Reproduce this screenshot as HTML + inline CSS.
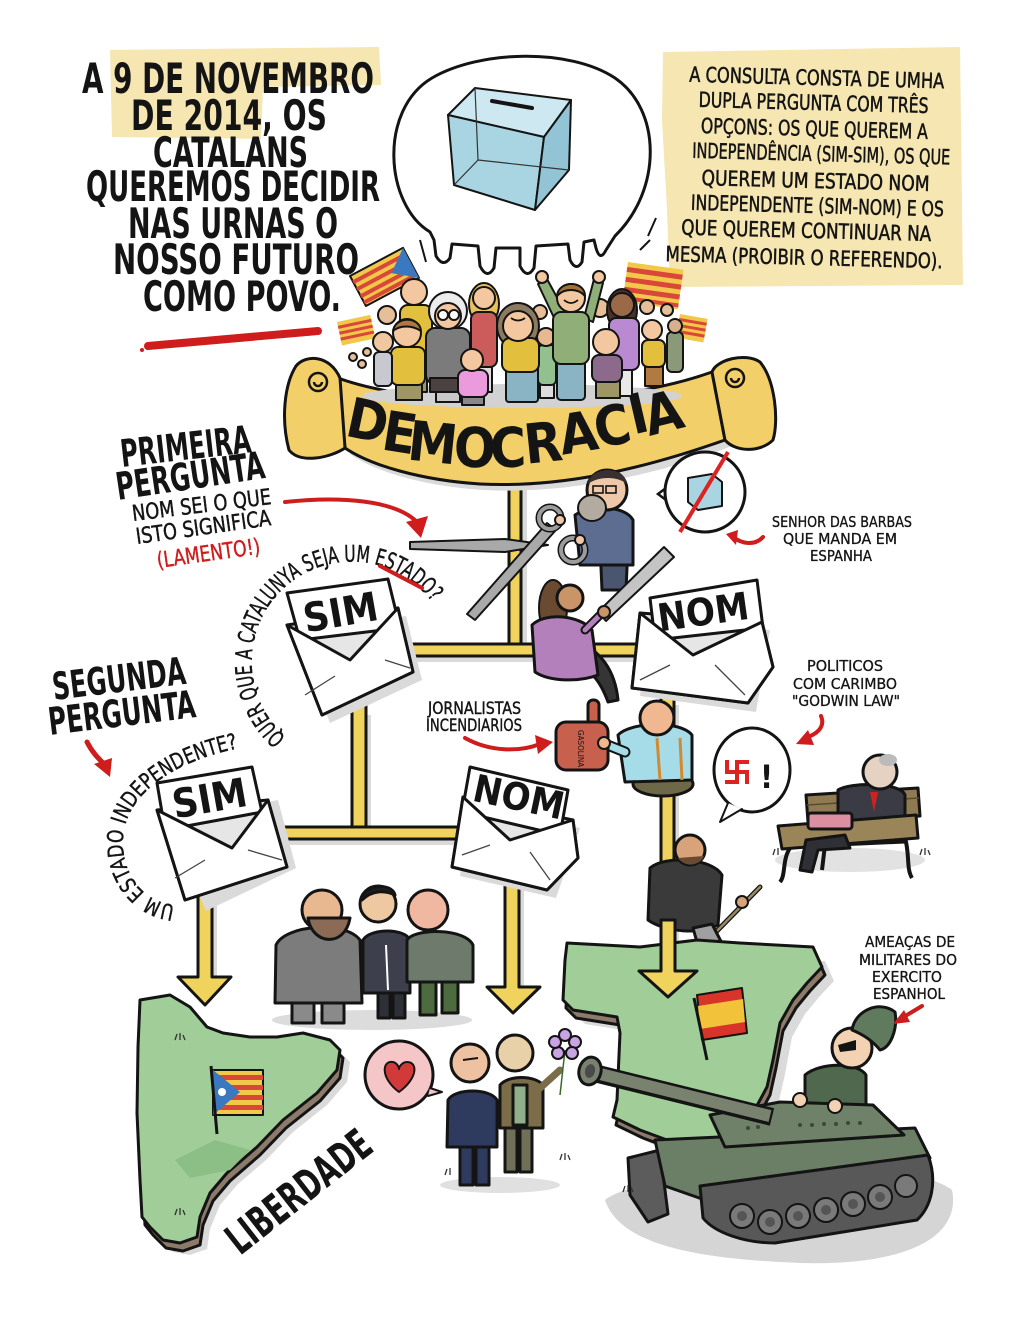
<!DOCTYPE html>
<html><head><meta charset="utf-8"><title>Democracia</title>
<style>
html,body{margin:0;padding:0;background:#fff;width:1023px;height:1320px;overflow:hidden}
svg{display:block}
text{font-family:"DejaVu Sans Condensed","Liberation Sans Narrow","Liberation Sans",sans-serif;fill:#141414}
.o{stroke:#141414;stroke-width:3;stroke-linejoin:round;stroke-linecap:round}
.t{stroke:#141414;stroke-width:2;stroke-linejoin:round;stroke-linecap:round}
.b{font-weight:bold}
.p{fill:#f0d35c}
.sh{fill:#dadada}
.r{fill:#cf1c1c}
</style></head><body>
<svg width="1023" height="1320" viewBox="0 0 1023 1320" xmlns="http://www.w3.org/2000/svg">
<rect width="1023" height="1320" fill="#fff"/>

<!-- ===== top-left text ===== -->
<path d="M110 50 L379 47 L381 85 L263 87 L261 139 L112 137 Z" fill="#f6e6b2"/>
<g class="b" font-size="42">
<text x="82" y="93" textLength="292" lengthAdjust="spacingAndGlyphs">A 9 DE NOVEMBRO</text>
<text x="131" y="130" textLength="196" lengthAdjust="spacingAndGlyphs">DE 2014, OS</text>
<text x="153" y="167" textLength="155" lengthAdjust="spacingAndGlyphs">CATALANS</text>
<text x="86" y="201" textLength="294" lengthAdjust="spacingAndGlyphs">QUEREMOS DECIDIR</text>
<text x="128" y="238" textLength="210" lengthAdjust="spacingAndGlyphs">NAS URNAS O</text>
<text x="113" y="274" textLength="246" lengthAdjust="spacingAndGlyphs">NOSSO FUTURO</text>
<text x="143" y="311" textLength="198" lengthAdjust="spacingAndGlyphs">COMO POVO.</text>
</g>
<path d="M148 346 L318 331" stroke="#cf1c1c" stroke-width="8" stroke-linecap="round"/>
<circle cx="142" cy="350" r="2" class="r"/>

<!-- ===== thought bubble ===== -->
<path d="M430 232 C385 205 378 110 432 78 C480 50 570 48 615 78 C662 110 662 190 615 236
 L606 250 Q600 262 596 248 L594 240 L584 242 L582 262 Q576 272 570 260 L568 244
 L536 246 L534 268 Q527 280 520 266 L520 248 L496 248 L494 268 Q487 280 480 266 L478 246
 L452 244 L450 258 Q443 268 436 256 L434 240 Z" fill="#fff" class="o" stroke-width="4"/>
<path d="M475 88 L571 100 L544 137 L448 115 Z" fill="#cde8f0" class="t"/>
<path d="M448 115 L544 137 L535 210 L454 185 Z" fill="#a9d5e3" class="t"/>
<path d="M544 137 L571 100 L569 170 L535 210 Z" fill="#93c4d6" class="t"/>
<path d="M475 88 L478 160 L454 185 M478 160 L569 170" fill="none" stroke="#333" stroke-width="1.2"/>
<path d="M492 101 L532 108" stroke="#141414" stroke-width="4" stroke-linecap="round"/>
<path d="M420 240 L426 262 M648 236 L656 218 M640 250 L650 240" stroke="#141414" stroke-width="2"/>

<!-- ===== right text box ===== -->
<path d="M663 52 L960 47 L963 285 L670 287 L667 210 L662 120 Z" fill="#f6e6b2"/>
<g font-size="21" stroke="#141414" stroke-width="0.5" transform="rotate(1.5 815 165)">
<text x="687" y="85" textLength="255" lengthAdjust="spacingAndGlyphs">A CONSULTA CONSTA DE UMHA</text>
<text x="697" y="110" textLength="230" lengthAdjust="spacingAndGlyphs">DUPLA PERGUNTA COM TRÊS</text>
<text x="700" y="136" textLength="227" lengthAdjust="spacingAndGlyphs">OPÇONS: OS QUE QUEREM A</text>
<text x="692" y="161" textLength="258" lengthAdjust="spacingAndGlyphs">INDEPENDÊNCIA (SIM-SIM), OS QUE</text>
<text x="702" y="188" textLength="228" lengthAdjust="spacingAndGlyphs">QUEREM UM ESTADO NOM</text>
<text x="692" y="213" textLength="253" lengthAdjust="spacingAndGlyphs">INDEPENDENTE (SIM-NOM) E OS</text>
<text x="683" y="238" textLength="250" lengthAdjust="spacingAndGlyphs">QUE QUEREM CONTINUAR NA</text>
<text x="668" y="265" textLength="277" lengthAdjust="spacingAndGlyphs">MESMA (PROIBIR O REFERENDO).</text>
</g>

<!-- ===== top pole (behind banner) ===== -->
<rect x="515" y="470" width="12" height="182" class="sh"/>
<rect x="509" y="462" width="12" height="190" class="p o" stroke-width="2.5"/>

<!-- ===== banner ===== -->
<path d="M344 386 C420 416 600 420 716 380 L732 446 C650 478 560 494 484 490 C420 486 372 470 350 454 Z" class="sh"/>
<path d="M338 378 C420 408 600 412 712 372 L725 440 C640 470 560 488 480 484 C420 480 370 465 345 448 Z" fill="#f2cf68" class="o" stroke-width="3.5"/>
<path d="M345 448 C330 458 300 464 289 450 C281 420 284 385 296 366 C306 354 330 355 340 378 Z" fill="#f2cf68" class="o" stroke-width="3.5"/>
<path d="M318 382 m-9 0 a9 9 0 1 0 18 0 a9 9 0 1 0 -18 0 M318 382 m-4 0 a4 4 0 1 0 8 0" fill="none" stroke="#141414" stroke-width="2.5"/>
<path d="M712 372 C716 360 745 352 760 362 C775 380 779 420 773 440 C760 453 735 452 725 440 Z" fill="#f2cf68" class="o" stroke-width="3.5"/>
<path d="M735 378 m-9 0 a9 9 0 1 0 18 0 a9 9 0 1 0 -18 0 M735 378 m-4 0 a4 4 0 1 0 8 0" fill="none" stroke="#141414" stroke-width="2.5"/>

<!-- ===== crowd ===== -->
<ellipse cx="522" cy="396" rx="160" ry="12" fill="#d2d2d2"/>
<g class="b" font-size="55" text-anchor="middle">
<text transform="translate(368,420) rotate(12)" y="20">D</text>
<text transform="translate(400,432) rotate(9)" y="20">E</text>
<text transform="translate(433,442) rotate(6)" y="20">M</text>
<text transform="translate(475,447) rotate(2)" y="20">O</text>
<text transform="translate(508,447) rotate(-2)" y="20">C</text>
<text transform="translate(543,442) rotate(-6)" y="20">R</text>
<text transform="translate(578,432) rotate(-9)" y="20">A</text>
<text transform="translate(612,425) rotate(-11)" y="20">C</text>
<text transform="translate(638,413) rotate(-13)" y="20">I</text>
<text transform="translate(663,412) rotate(-14)" y="20">A</text>
</g>
<g transform="translate(350,276) rotate(-28)">
<rect width="60" height="34" fill="#f2c84a" class="t"/>
<rect y="5" width="60" height="4" fill="#d9463a"/><rect y="13" width="60" height="4" fill="#d9463a"/>
<rect y="21" width="60" height="4" fill="#d9463a"/><rect y="28" width="60" height="4" fill="#d9463a"/>
<path d="M60 0 L60 34 L38 17 Z" fill="#3a78c0"/>
</g>
<g transform="translate(337,322) rotate(-12)">
<rect width="34" height="24" fill="#f2c84a"/>
<rect y="4" width="34" height="3" fill="#d9463a"/><rect y="10" width="34" height="3" fill="#d9463a"/><rect y="16" width="34" height="3" fill="#d9463a"/>
</g>
<g transform="translate(628,262) rotate(8)">
<rect width="56" height="40" fill="#f2c84a"/>
<rect y="5" width="56" height="5" fill="#d9463a"/><rect y="15" width="56" height="5" fill="#d9463a"/><rect y="25" width="56" height="5" fill="#d9463a"/><rect y="34" width="56" height="4" fill="#d9463a"/>
</g>
<g transform="translate(680,314) rotate(10)">
<rect width="28" height="24" fill="#f2c84a"/>
<rect y="4" width="28" height="3" fill="#d9463a"/><rect y="10" width="28" height="3" fill="#d9463a"/><rect y="16" width="28" height="3" fill="#d9463a"/>
</g>
<g class="t" stroke-width="1.5" fill="#e6be98">
<circle cx="387" cy="315" r="9"/><circle cx="600" cy="308" r="9"/><circle cx="647" cy="307" r="7"/><circle cx="667" cy="310" r="6"/>
<circle cx="540" cy="312" r="7"/><circle cx="353" cy="357" r="4"/><circle cx="362" cy="364" r="4"/><circle cx="367" cy="352" r="4"/>
</g>
<g class="t">
<rect x="667" y="332" width="16" height="40" rx="5" fill="#8a9a78"/><circle cx="675" cy="326" r="7" fill="#d8b08a"/>
<ellipse cx="622" cy="310" rx="15" ry="21" fill="#4a3028"/>
<rect x="616" y="366" width="16" height="30" fill="#e8e8e8"/>
<rect x="609" y="318" width="30" height="52" rx="7" fill="#b98ad2"/><circle cx="622" cy="305" r="12" fill="#9a6a48"/>
<ellipse cx="484" cy="304" rx="15" ry="21" fill="#e9c15a"/>
<rect x="476" y="362" width="16" height="30" fill="#ddd"/>
<rect x="471" y="312" width="26" height="55" rx="7" fill="#cc5c5c"/><circle cx="484" cy="298" r="11" fill="#f3c7a0"/>
<rect x="405" y="362" width="22" height="30" fill="#9f9666"/>
<rect x="400" y="305" width="32" height="62" rx="8" fill="#e2c03e"/><circle cx="414" cy="292" r="13" fill="#f3c7a0"/>
<rect x="540" y="380" width="14" height="18" fill="#ddd"/>
<rect x="538" y="345" width="18" height="40" rx="5" fill="#92c08e"/><circle cx="546" cy="337" r="9" fill="#e8b890"/>
<path d="M556 322 L538 284 L547 279 L566 314 Z" fill="#8fae78"/>
<path d="M584 318 L594 279 L603 283 L593 322 Z" fill="#8fae78"/>
<circle cx="542" cy="277" r="6" fill="#f3c7a0"/><circle cx="599" cy="277" r="6" fill="#f3c7a0"/>
<rect x="557" y="360" width="28" height="40" rx="4" fill="#8ab4c4"/>
<rect x="553" y="312" width="36" height="52" rx="8" fill="#8fae78"/><circle cx="571" cy="298" r="14" fill="#f3c7a0"/>
<path d="M557 296 C558 280 585 280 585 296 C578 288 564 288 557 296 Z" fill="#a0703a"/>
<circle cx="448" cy="311" r="19" fill="#ececec"/>
<rect x="436" y="388" width="24" height="14" fill="#c8c8c8"/>
<rect x="426" y="328" width="44" height="56" rx="9" fill="#7b7b7b"/>
<rect x="430" y="378" width="36" height="14" fill="#4b4141"/>
<circle cx="448" cy="316" r="13" fill="#f3c7a0"/>
<circle cx="443" cy="315" r="5" fill="#fff"/><circle cx="454" cy="315" r="5" fill="#fff"/>
<rect x="396" y="382" width="26" height="18" fill="#9f9666"/>
<rect x="391" y="347" width="34" height="38" rx="7" fill="#e2c03e"/><circle cx="407" cy="333" r="14" fill="#f3c7a0"/>
<path d="M393 331 C395 316 420 316 421 331 C412 325 400 325 393 331 Z" fill="#b07840"/>
<rect x="374" y="352" width="18" height="34" rx="5" fill="#c8c8d0"/><circle cx="383" cy="342" r="10" fill="#f0c8a0"/>
<ellipse cx="518" cy="326" rx="21" ry="23" fill="#8a7a62"/>
<rect x="506" y="368" width="32" height="34" rx="3" fill="#8ab4c4"/>
<rect x="502" y="338" width="37" height="34" rx="8" fill="#e2c03e"/><circle cx="518" cy="326" r="15" fill="#f3c7a0"/>
<rect x="596" y="379" width="24" height="19" fill="#9f9666"/>
<rect x="592" y="355" width="30" height="27" rx="7" fill="#8c6a8c"/><circle cx="606" cy="342" r="13" fill="#f3c7a0"/>
<rect x="645" y="364" width="18" height="22" fill="#b07a40"/>
<rect x="642" y="340" width="23" height="27" rx="6" fill="#e2c03e"/><circle cx="652" cy="330" r="10" fill="#f3c7a0"/>
<rect x="462" y="394" width="22" height="11" fill="#888"/>
<rect x="458" y="370" width="30" height="27" rx="7" fill="#ec9ade"/><circle cx="472" cy="360" r="11" fill="#f3c7a0"/>
</g>
<path d="M525 318 q-7 5 -14 0 M578 300 q-7 6 -14 0" stroke="#141414" stroke-width="1.8" fill="none"/>

<!-- ===== poles ===== -->
<g class="sh">
<rect x="414" y="650" width="230" height="12"/>
<rect x="357" y="715" width="14" height="120"/>
<rect x="286" y="833" width="175" height="12"/>
<rect x="666" y="705" width="13" height="260"/>
<rect x="203" y="895" width="14" height="85"/>
<rect x="510" y="890" width="14" height="100"/>
</g>
<g class="p o" stroke-width="2.5">
<rect x="410" y="644" width="232" height="12"/>
<rect x="352" y="700" width="14" height="131"/>
<rect x="280" y="827" width="178" height="12"/>
<rect x="661" y="695" width="13" height="275"/>
<path d="M198 880 L212 880 L212 977 L231 977 L205 1005 L178 977 L198 977 Z"/>
<path d="M505 880 L519 880 L519 987 L540 987 L513 1013 L487 987 L505 987 Z"/>
<path d="M661 940 L675 940 L675 971 L697 971 L668 997 L639 971 L661 971 Z"/>
</g>

<!-- ===== envelopes ===== -->
<!-- top SIM -->
<path d="M295 633 L406 616 L422 680 L330 723 Z" class="sh"/>
<path d="M287 625 L398 608 L413 672 L322 715 Z" fill="#e6e6e6" class="o"/>
<path d="M287 593 L388 579 L400 628 L300 640 Z" fill="#fff" class="o"/>
<text class="b" font-size="40" text-anchor="middle" transform="translate(343,626) rotate(-10)">SIM</text>
<path d="M287 625 L350 660 L398 608 L413 672 L322 715 Z" fill="#fff" class="o"/>
<path d="M305 695 L335 676 M385 660 L410 668" stroke="#444" stroke-width="1.3"/>
<!-- top NOM -->
<path d="M648 620 L770 630 L756 712 L640 696 Z" class="sh"/>
<path d="M640 613 L762 622 L773 667 L748 703 L632 688 Z" fill="#e6e6e6" class="o"/>
<path d="M650 598 L757 580 L763 628 L655 640 Z" fill="#fff" class="o"/>
<text class="b" font-size="38" text-anchor="middle" transform="translate(705,625) rotate(-8)">NOM</text>
<path d="M640 613 L693 655 L762 622 L773 667 L748 703 L632 688 Z" fill="#fff" class="o"/>
<path d="M640 680 L670 665 M715 665 L745 695" stroke="#444" stroke-width="1.3"/>
<!-- lower SIM -->
<path d="M168 821 L278 800 L296 868 L206 911 Z" class="sh"/>
<path d="M157 810 L268 800 L287 867 L185 900 Z" fill="#e6e6e6" class="o"/>
<path d="M157 783 L252 767 L262 812 L165 830 Z" fill="#fff" class="o"/>
<text class="b" font-size="40" text-anchor="middle" transform="translate(212,812) rotate(-10)">SIM</text>
<path d="M157 810 L232 848 L268 800 L287 867 L185 900 Z" fill="#fff" class="o"/>
<path d="M175 878 L205 860 M248 850 L282 860" stroke="#444" stroke-width="1.3"/>
<!-- lower NOM -->
<path d="M470 803 L580 828 L556 898 L460 876 Z" class="sh"/>
<path d="M463 797 L573 820 L578 858 L547 890 L452 867 Z" fill="#e6e6e6" class="o"/>
<path d="M470 767 L568 790 L560 835 L462 812 Z" fill="#fff" class="o"/>
<text class="b" font-size="38" text-anchor="middle" transform="translate(516,810) rotate(12)">NOM</text>
<path d="M463 797 L510 840 L573 820 L578 858 L547 890 L452 867 Z" fill="#fff" class="o"/>
<path d="M462 855 L490 845 M530 852 L550 880" stroke="#444" stroke-width="1.3"/>

<!-- ===== left labels ===== -->
<g class="b">
<text font-size="38" transform="translate(122,467) rotate(-6.5)" textLength="131" lengthAdjust="spacingAndGlyphs">PRIMEIRA</text>
<text font-size="38" transform="translate(118,500) rotate(-8.5)" textLength="150" lengthAdjust="spacingAndGlyphs">PERGUNTA</text>
</g>
<g font-size="22" stroke="#141414" stroke-width="0.4">
<text transform="translate(133,521) rotate(-7)" textLength="140" lengthAdjust="spacingAndGlyphs">NOM SEI O QUE</text>
<text transform="translate(137,544) rotate(-8)" textLength="136" lengthAdjust="spacingAndGlyphs">ISTO SIGNIFICA</text>
<text transform="translate(158,568) rotate(-8)" textLength="104" lengthAdjust="spacingAndGlyphs" style="fill:#cf1c1c" stroke="#cf1c1c">(LAMENTO!)</text>
</g>
<path d="M285 502 C340 496 395 500 417 522" fill="none" stroke="#cf1c1c" stroke-width="4" stroke-linecap="round"/>
<path d="M406 522 L428 516 L421 538 Z" class="r"/>
<g class="b">
<text font-size="38" transform="translate(54,700) rotate(-7)" textLength="134" lengthAdjust="spacingAndGlyphs">SEGUNDA</text>
<text font-size="38" transform="translate(50,735) rotate(-7)" textLength="148" lengthAdjust="spacingAndGlyphs">PERGUNTA</text>
</g>
<path d="M87 742 C92 752 98 758 104 764" fill="none" stroke="#cf1c1c" stroke-width="5" stroke-linecap="round"/>
<path d="M94 764 L112 758 L110 777 Z" class="r"/>
<path id="arc1" d="M286 737 A100 100 0 1 1 432 602" fill="none"/>
<text font-size="23" stroke="#141414" stroke-width="0.4"><textPath href="#arc1" textLength="335" lengthAdjust="spacingAndGlyphs">QUER QUE A CATALUNYA SEJA UM ESTADO?</textPath></text>
<path d="M380 566 L422 588" stroke="#cf1c1c" stroke-width="4" stroke-linecap="round"/>
<path id="arc2" d="M175 905 C145 902 123 877 123 842 C123 797 170 762 240 748" fill="none"/>
<text font-size="22" stroke="#141414" stroke-width="0.4"><textPath href="#arc2" textLength="250" lengthAdjust="spacingAndGlyphs">UM ESTADO INDEPENDENTE?</textPath></text>

<!-- jornalistas -->
<g font-size="17" stroke="#141414" stroke-width="0.4">
<text x="428" y="714" textLength="93" lengthAdjust="spacingAndGlyphs">JORNALISTAS</text>
<text x="426" y="731" textLength="96" lengthAdjust="spacingAndGlyphs">INCENDIARIOS</text>
</g>
<path d="M465 738 C490 752 520 752 540 744" fill="none" stroke="#cf1c1c" stroke-width="4" stroke-linecap="round"/>
<path d="M535 735 L553 742 L538 754 Z" class="r"/>

<!-- ===== Rajoy + scissors ===== -->
<path d="M600 545 L628 545 L626 590 L602 590 Z" fill="#4a5670" class="o"/>
<path d="M575 515 C590 505 625 505 633 520 L633 565 L580 565 Z" fill="#5d6d92" class="o"/>
<circle cx="607" cy="490" r="20" fill="#eec8a8" class="o"/>
<path d="M588 484 C590 466 625 465 627 484 C618 476 598 476 588 484 Z" fill="#3a3030"/>
<ellipse cx="592" cy="508" rx="14" ry="13" fill="#b3aba0" class="t"/>
<rect x="593" y="486" width="10" height="7" fill="none" stroke="#141414" stroke-width="1.6"/><rect x="606" y="486" width="10" height="7" fill="none" stroke="#141414" stroke-width="1.6"/>
<path d="M410 542 L505 539 L548 545 L505 552 L410 549 Z" fill="#a9a9a9" class="t"/>
<path d="M467 614 L475 620 L556 530 L547 523 Z" fill="#a9a9a9" class="t"/>
<circle cx="550" cy="518" r="11" fill="none" stroke="#141414" stroke-width="7"/><circle cx="550" cy="518" r="11" fill="none" stroke="#9c9c9c" stroke-width="4"/>
<circle cx="573" cy="550" r="12" fill="none" stroke="#141414" stroke-width="7"/><circle cx="573" cy="550" r="12" fill="none" stroke="#9c9c9c" stroke-width="4"/>
<circle cx="560" cy="520" r="5" fill="#eec8a8" class="t"/><circle cx="580" cy="540" r="5" fill="#eec8a8" class="t"/>
<!-- crossed box bubble -->
<circle cx="705" cy="492" r="40" fill="#fff" class="o"/>
<path d="M666 488 L658 494 L666 500" fill="none" stroke="#141414" stroke-width="2.5"/>
<path d="M688 478 L712 474 L722 482 L722 506 L698 510 L688 502 Z" fill="#a9d5e3" class="t"/>
<path d="M680 532 L728 452" stroke="#d22" stroke-width="4"/>
<g font-size="15" stroke="#141414" stroke-width="0.3">
<text x="772" y="527" textLength="140" lengthAdjust="spacingAndGlyphs">SENHOR DAS BARBAS</text>
<text x="783" y="544" textLength="114" lengthAdjust="spacingAndGlyphs">QUE MANDA EM</text>
<text x="810" y="561" textLength="62" lengthAdjust="spacingAndGlyphs">ESPANHA</text>
</g>
<path d="M763 537 C755 546 742 544 733 537" fill="none" stroke="#cf1c1c" stroke-width="4" stroke-linecap="round"/>
<path d="M738 530 L726 534 L736 545 Z" class="r"/>

<!-- ===== woman with saw ===== -->
<path d="M575 640 C600 650 615 670 618 700 L608 702 C600 680 590 668 570 662 Z" fill="#353535" class="o"/>
<ellipse cx="553" cy="608" rx="14" ry="28" fill="#6a4a30" class="t"/>
<path d="M532 625 C545 612 580 615 592 630 L598 675 C580 682 550 682 535 672 Z" fill="#b480bc" class="o"/>
<path d="M585 630 L603 612" stroke="#141414" stroke-width="9" stroke-linecap="round"/>
<path d="M585 630 L603 612" stroke="#b480bc" stroke-width="5" stroke-linecap="round"/>
<circle cx="570" cy="598" r="13" fill="#c89468" class="o"/>
<path d="M598 612 L606 621 L674 557 L664 547 Z" fill="#c4c4c4" class="t"/>
<circle cx="604" cy="612" r="6" fill="#c89468" class="t"/>

<!-- ===== gasoline man ===== -->
<ellipse cx="663" cy="784" rx="30" ry="12" fill="#6d6848" class="o"/>
<path d="M618 735 C630 722 680 720 692 735 L692 780 L625 782 Z" fill="#a6dbe8" class="o"/>
<path d="M657 738 L660 780 M680 738 L682 780" stroke="#d08a30" stroke-width="3"/>
<path d="M625 752 L600 742" stroke="#141414" stroke-width="11" stroke-linecap="round"/>
<path d="M625 752 L600 742" stroke="#a6dbe8" stroke-width="7" stroke-linecap="round"/>
<circle cx="657" cy="718" r="17" fill="#f0b890" class="o"/>
<rect x="588" y="700" width="11" height="34" rx="5" fill="#c8604e" class="o"/>
<rect x="556" y="722" width="52" height="48" rx="10" fill="#c8604e" class="o"/>
<circle cx="604" cy="743" r="6" fill="#f0b890" class="t"/>
<text font-size="8" transform="translate(578,730) rotate(90)">GASOLINA</text>

<!-- swastika bubble -->
<ellipse cx="752" cy="770" rx="38" ry="42" fill="#fff" class="o"/>
<path d="M728 803 L720 822 L742 809" fill="#fff" class="t"/>
<path d="M727 772 L747 772 M737 762 L737 782 M737 762 L747 762 M747 772 L747 782 M737 782 L727 782 M727 772 L727 762" stroke="#d22" stroke-width="4" fill="none" stroke-linecap="square"/>
<text x="760" y="788" font-size="32" class="b">!</text>
<g font-size="15" stroke="#141414" stroke-width="0.3">
<text x="807" y="671" textLength="76" lengthAdjust="spacingAndGlyphs">POLITICOS</text>
<text x="793" y="689" textLength="104" lengthAdjust="spacingAndGlyphs">COM CARIMBO</text>
<text x="792" y="706" textLength="108" lengthAdjust="spacingAndGlyphs">"GODWIN LAW"</text>
</g>
<path d="M821 716 C826 728 815 735 805 738" fill="none" stroke="#cf1c1c" stroke-width="4" stroke-linecap="round"/>
<path d="M808 730 L796 744 L814 745 Z" class="r"/>

<!-- bench man -->
<ellipse cx="850" cy="860" rx="75" ry="12" fill="#e2e2e2"/>
<path d="M790 848 C782 860 786 875 780 882 M905 838 C910 855 906 868 912 878 M825 845 L822 870" stroke="#141414" stroke-width="4" fill="none"/>
<path d="M806 795 L918 788 L920 816 L808 822 Z" fill="#8f7b52" class="o"/>
<path d="M807 805 L919 798" stroke="#5a4b30" stroke-width="1.5"/>
<path d="M838 790 C850 782 900 782 905 795 L905 842 L838 845 Z" fill="#3b3b45" class="o"/>
<path d="M778 826 L916 815 L918 838 L782 849 Z" fill="#9a8558" class="o"/>
<path d="M845 835 L806 840 L800 870 L812 872 L818 850 L850 848 Z" fill="#2f2f36" class="o"/>
<path d="M870 792 L874 812 L878 792 Z" fill="#c22"/>
<rect x="808" y="813" width="44" height="16" rx="3" fill="#dc8fa0" class="o"/>
<circle cx="880" cy="772" r="17" fill="#e5d2c2" class="o"/>
<ellipse cx="888" cy="760" rx="9" ry="6" fill="#bbb"/>

<!-- axe man -->
<path d="M650 868 C665 855 712 858 722 875 L718 925 C700 935 665 932 648 920 Z" fill="#3a3a3a" class="o"/>
<circle cx="690" cy="850" r="15" fill="#d9a37a" class="o"/>
<path d="M678 858 C685 868 700 866 704 856" fill="#6a4a30"/>
<path d="M713 935 L760 887" stroke="#141414" stroke-width="5" stroke-linecap="round"/>
<path d="M713 935 L760 887" stroke="#9a8a62" stroke-width="2.5" stroke-linecap="round"/>
<path d="M693 928 L712 924 L727 953 L702 960 Z" fill="#a0a0a0" class="o"/>
<circle cx="742" cy="902" r="6" fill="#d9a37a" class="t"/>

<!-- ===== Catalonia map ===== -->
<path transform="translate(10,12)" d="M140 1000 L170 995 L190 1007 L207 1027 L223 1033 L250 1037 L277 1037 L303 1033 L330 1040 L340 1050 L337 1070 L317 1093 L283 1120 L257 1147 L227 1173 L210 1193 L200 1217 L197 1237 L180 1243 L163 1240 L150 1227 L142 1217 L140 1180 L137 1113 L138 1047 Z" class="sh"/>
<path transform="translate(3,8)" d="M140 1000 L170 995 L190 1007 L207 1027 L223 1033 L250 1037 L277 1037 L303 1033 L330 1040 L340 1050 L337 1070 L317 1093 L283 1120 L257 1147 L227 1173 L210 1193 L200 1217 L197 1237 L180 1243 L163 1240 L150 1227 L142 1217 L140 1180 L137 1113 L138 1047 Z" fill="#8c7b6b" class="o"/>
<path d="M140 1000 L170 995 L190 1007 L207 1027 L223 1033 L250 1037 L277 1037 L303 1033 L330 1040 L340 1050 L337 1070 L317 1093 L283 1120 L257 1147 L227 1173 L210 1193 L200 1217 L197 1237 L180 1243 L163 1240 L150 1227 L142 1217 L140 1180 L137 1113 L138 1047 Z" fill="#a0cd98" class="o"/>
<path d="M175 1160 L215 1140 L250 1150 L230 1170 L190 1178 Z" fill="#8cbf86"/>
<rect x="213" y="1070" width="50" height="45" fill="#f2c84a" class="t"/>
<g fill="#d9463a"><rect x="213" y="1075" width="50" height="5"/><rect x="213" y="1085" width="50" height="5"/><rect x="213" y="1095" width="50" height="5"/><rect x="213" y="1105" width="50" height="5"/></g>
<path d="M213 1070 L213 1115 L240 1092 Z" fill="#3a78c0"/>
<circle cx="222" cy="1092" r="4" fill="#fff"/>
<path d="M211 1066 L217 1134" stroke="#141414" stroke-width="3"/>
<text class="b" font-size="42" transform="translate(240,1256) rotate(-38)" textLength="172" lengthAdjust="spacingAndGlyphs">LIBERDADE</text>

<!-- ===== three men ===== -->
<ellipse cx="372" cy="1020" rx="100" ry="10" fill="#dcdcdc"/>
<g class="o" stroke-width="2.5">
<rect x="292" y="995" width="22" height="28" fill="#8a8a8a"/><rect x="322" y="995" width="22" height="28" fill="#8a8a8a"/>
<path d="M276 945 C285 925 345 920 360 940 L362 1003 L275 1003 Z" fill="#7c7c7c"/>
<circle cx="322" cy="910" r="20" fill="#e8b890"/>
<path d="M308 918 C312 945 345 948 350 918 Z" fill="#8b6b55"/>
<rect x="378" y="988" width="12" height="30" fill="#2e3038"/><rect x="393" y="988" width="12" height="30" fill="#2e3038"/>
<path d="M363 940 C370 928 405 928 410 940 L410 993 L363 993 Z" fill="#3d404c"/>
<circle cx="378" cy="904" r="18" fill="#edc8a0"/>
<path d="M362 900 C362 884 392 882 395 895 C385 890 372 890 362 900 Z" fill="#1e1e1e"/>
<rect x="420" y="975" width="16" height="40" fill="#4d6b3e"/><rect x="442" y="975" width="16" height="38" fill="#4d6b3e"/>
<path d="M407 940 C415 928 465 928 473 945 L473 982 L407 982 Z" fill="#6e7b6c"/>
<circle cx="428" cy="910" r="20" fill="#f0b8a0"/>
</g>
<path d="M386 945 L388 990" stroke="#fff" stroke-width="2"/>

<!-- heart bubble -->
<circle cx="399" cy="1075" r="34" fill="#f4c6c8" class="o"/>
<path d="M430 1088 L442 1092 L428 1096" fill="#f4c6c8" class="t"/>
<path d="M399 1092 C380 1078 382 1060 393 1062 C397 1063 399 1067 399 1069 C399 1067 402 1062 407 1062 C418 1062 418 1078 399 1092 Z" fill="#d23a3a" class="t"/>

<!-- two men -->
<ellipse cx="500" cy="1185" rx="60" ry="8" fill="#e0e0e0"/>
<g class="o" stroke-width="2.5">
<rect x="460" y="1140" width="13" height="45" fill="#2e3b5e"/><rect x="476" y="1140" width="13" height="45" fill="#2e3b5e"/>
<path d="M448 1100 C455 1088 490 1088 497 1100 L497 1147 L447 1147 Z" fill="#2e3b5e"/>
<circle cx="470" cy="1063" r="19" fill="#eec2a0"/>
<rect x="505" y="1122" width="12" height="50" fill="#707058"/><rect x="520" y="1122" width="12" height="50" fill="#707058"/>
<path d="M500 1085 C508 1075 535 1075 543 1085 L543 1128 L500 1128 Z" fill="#7c6d4a"/>
<rect x="513" y="1085" width="14" height="40" fill="#8fb08a"/>
<path d="M538 1090 L560 1070" stroke-width="3"/>
<circle cx="515" cy="1053" r="18" fill="#e8d0a8"/>
</g>
<path d="M538 1090 L560 1070" stroke="#7c6d4a" stroke-width="7" stroke-linecap="round"/>
<path d="M565 1050 L560 1095" stroke="#3a6a2a" stroke-width="1.5"/>
<g fill="#c9a4e4" class="t" stroke-width="1.5">
<circle cx="565" cy="1035" r="6"/><circle cx="575" cy="1042" r="6"/><circle cx="572" cy="1053" r="6"/><circle cx="558" cy="1053" r="6"/><circle cx="555" cy="1042" r="6"/>
</g>
<circle cx="565" cy="1045" r="3" fill="#fff"/>
<path d="M463 1060 L478 1058" stroke="#141414" stroke-width="2"/>

<!-- ===== Spain map ===== -->
<path transform="translate(12,14)" d="M567 943 L640 947 L697 940 L740 943 L813 947 L822 967 L807 983 L793 1000 L780 1023 L773 1060 L767 1087 L753 1113 L745 1140 L700 1150 L667 1140 L640 1130 L613 1117 L617 1100 L620 1033 L617 1017 L573 1010 L563 1000 L565 960 Z" class="sh"/>
<path transform="translate(3,8)" d="M567 943 L640 947 L697 940 L740 943 L813 947 L822 967 L807 983 L793 1000 L780 1023 L773 1060 L767 1087 L753 1113 L745 1140 L700 1150 L667 1140 L640 1130 L613 1117 L617 1100 L620 1033 L617 1017 L573 1010 L563 1000 L565 960 Z" fill="#8c7b6b" class="o"/>
<path d="M567 943 L640 947 L697 940 L740 943 L813 947 L822 967 L807 983 L793 1000 L780 1023 L773 1060 L767 1087 L753 1113 L745 1140 L700 1150 L667 1140 L640 1130 L613 1117 L617 1100 L620 1033 L617 1017 L573 1010 L563 1000 L565 960 Z" fill="#a0cd98" class="o"/>
<path d="M661 920 L675 920 L675 971 L697 971 L668 997 L639 971 L661 971 Z" class="p o" stroke-width="2.5"/>
<path d="M697 995 L742 988 L747 1033 L702 1040 Z" fill="#d9342a" class="t"/>
<path d="M698 1006 L743 999 L745 1022 L700 1029 Z" fill="#f2c23a"/>
<path d="M694 998 L707 1060" stroke="#141414" stroke-width="3"/>

<!-- ===== tank ===== -->
<path d="M605 1200 C640 1170 900 1150 952 1190 C962 1240 900 1266 800 1263 C700 1259 620 1246 605 1200 Z" fill="#d5d5d5"/>
<path d="M628 1158 L660 1150 L668 1214 L648 1222 L630 1195 Z" fill="#5c5c5c" class="o"/>
<path d="M655 1140 L915 1128 L930 1158 L905 1176 L705 1200 L665 1186 Z" fill="#6b7e66" class="o"/>
<path d="M700 1186 L928 1155 C938 1182 931 1207 917 1220 L775 1243 C745 1243 715 1233 703 1218 Z" fill="#585858" class="o"/>
<g fill="#7a7a7a" class="t">
<circle cx="742" cy="1216" r="12"/><circle cx="770" cy="1222" r="12"/><circle cx="798" cy="1216" r="12"/><circle cx="826" cy="1210" r="12"/><circle cx="853" cy="1204" r="12"/><circle cx="880" cy="1197" r="12"/><circle cx="906" cy="1186" r="11"/>
</g>
<g fill="#555"><circle cx="742" cy="1216" r="5"/><circle cx="770" cy="1222" r="5"/><circle cx="798" cy="1216" r="5"/><circle cx="826" cy="1210" r="5"/><circle cx="853" cy="1204" r="5"/><circle cx="880" cy="1197" r="5"/></g>
<!-- soldier -->
<path d="M805 1075 C820 1062 858 1062 866 1075 L866 1120 L805 1120 Z" fill="#50684e" class="o"/>
<circle cx="852" cy="1048" r="20" fill="#f2d2b2" class="o"/>
<path d="M838 1045 L856 1040 L856 1050 L840 1052 Z" fill="#141414"/>
<path d="M852 1030 C855 1010 880 1000 895 1012 C898 1030 890 1048 880 1050 C872 1040 862 1034 852 1030 Z" fill="#5f7a5c" class="o"/>
<path d="M710 1115 L780 1102 L873 1105 L904 1135 L725 1147 Z" fill="#6f8269" class="o"/>
<circle cx="800" cy="1100" r="7" fill="#f2d2b2" class="t"/><circle cx="835" cy="1106" r="7" fill="#f2d2b2" class="t"/>
<g fill="#3a4a38"><circle cx="800" cy="1125" r="2"/><circle cx="812" cy="1125" r="2"/><circle cx="824" cy="1124" r="2"/><circle cx="836" cy="1124" r="2"/><circle cx="848" cy="1123" r="2"/><circle cx="860" cy="1123" r="2"/><circle cx="748" cy="1128" r="2"/><circle cx="758" cy="1127" r="2"/></g>
<path d="M590 1072 L772 1117" stroke="#141414" stroke-width="18" stroke-linecap="butt"/>
<path d="M592 1072 L770 1116" stroke="#79826f" stroke-width="12" stroke-linecap="butt"/>
<ellipse cx="590" cy="1071" rx="11" ry="14" transform="rotate(14 590 1071)" fill="#79826f" class="o"/>
<ellipse cx="590" cy="1071" rx="5" ry="7" transform="rotate(14 590 1071)" fill="#4a4a4a"/>

<!-- ameacas -->
<g font-size="15" stroke="#141414" stroke-width="0.3" text-anchor="middle">
<text x="910" y="947" textLength="90" lengthAdjust="spacingAndGlyphs">AMEAÇAS DE</text>
<text x="908" y="965" textLength="98" lengthAdjust="spacingAndGlyphs">MILITARES DO</text>
<text x="907" y="982" textLength="70" lengthAdjust="spacingAndGlyphs">EXERCITO</text>
<text x="909" y="999" textLength="72" lengthAdjust="spacingAndGlyphs">ESPANHOL</text>
</g>
<path d="M922 1006 L902 1018" stroke="#cf1c1c" stroke-width="4" stroke-linecap="round"/>
<path d="M904 1010 L893 1024 L910 1022 Z" class="r"/>

<!-- grass tufts -->
<g stroke="#333" stroke-width="1.3" fill="none">
<path d="M175 1040 l2 -6 M180 1040 l0 -7 M185 1040 l-2 -5"/>
<path d="M175 1215 l2 -6 M180 1215 l0 -7 M185 1215 l-2 -5"/>
<path d="M445 1175 l2 -6 M450 1175 l0 -7"/>
<path d="M560 1160 l2 -6 M565 1160 l0 -7 M570 1160 l-2 -5"/>
<path d="M623 1192 l2 -6 M628 1192 l0 -7 M633 1192 l-2 -5"/>
<path d="M773 855 l2 -6 M778 855 l0 -7"/>
<path d="M920 855 l2 -6 M925 855 l0 -7 M930 855 l-2 -5"/>
</g>
</svg>
</body></html>
